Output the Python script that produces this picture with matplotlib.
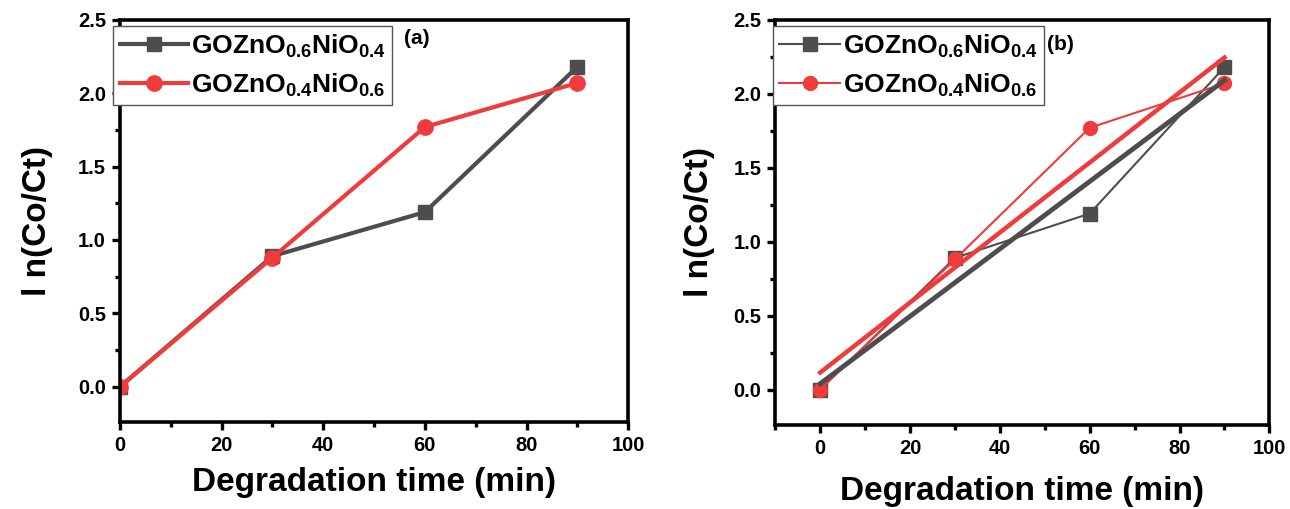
import numpy as np
import matplotlib
matplotlib.use("Agg")
import matplotlib.pyplot as plt
from matplotlib.ticker import MultipleLocator, FormatStrFormatter

plt.rcParams['font.family'] = ['Liberation Sans', 'DejaVu Sans']
plt.rcParams['font.weight'] = 'bold'
plt.rcParams['mathtext.fontset'] = 'custom'
plt.rcParams['mathtext.bf'] = 'Liberation Sans:bold'
plt.rcParams['mathtext.rm'] = 'Liberation Sans:bold'
plt.rcParams['mathtext.default'] = 'bf'

# data
time_min = [0, 30, 60, 90]
ln_zn06 = [0.0, 0.89, 1.19, 2.18]
ln_zn04 = [0.0, 0.88, 1.77, 2.07]

label_zn06 = r'GOZnO$_{0.6}$NiO$_{0.4}$'
label_zn04 = r'GOZnO$_{0.4}$NiO$_{0.6}$'

gray = '#4d4d4d'
red = '#ef3b3b'


def style_axes(ax, xmin, xpad, ypad):
    for s in ax.spines.values():
        s.set_linewidth(2.6)
    ax.set_xlim(xmin, 100)
    ax.set_ylim(-0.24, 2.5)
    ax.xaxis.set_major_locator(MultipleLocator(20))
    ax.xaxis.set_minor_locator(MultipleLocator(10))
    ax.yaxis.set_major_locator(MultipleLocator(0.5))
    ax.yaxis.set_minor_locator(MultipleLocator(0.25))
    ax.yaxis.set_major_formatter(FormatStrFormatter('%.1f'))
    ax.tick_params(which='major', direction='out', length=6, width=2.4,
                   labelsize=14.5, pad=4)
    ax.tick_params(which='minor', direction='out', length=3.5, width=2.4)
    ax.set_xlabel('Degradation time (min)', fontsize=24, fontweight='bold', labelpad=xpad)
    ax.set_ylabel('l n(Co/Ct)', fontsize=24, fontweight='bold', labelpad=ypad)


fig = plt.figure(figsize=(12.9, 5.09), dpi=100)

# panel (a)
ax1 = fig.add_axes([0.093, 0.171, 0.394, 0.790])
ax1.plot(time_min, ln_zn06, color=gray, lw=3, marker='s', ms=10, label=label_zn06)
ax1.plot(time_min, ln_zn04, color=red, lw=3, marker='o', ms=11, label=label_zn04)
style_axes(ax1, 0, 9, 18)
leg1 = ax1.legend(loc='upper left', bbox_to_anchor=(0.0876, 0.949),
                  bbox_transform=fig.transFigure, fontsize=19, handlelength=2.6,
                  borderaxespad=0, borderpad=0.25, labelspacing=0.45,
                  handletextpad=0.1, fancybox=False, framealpha=1)
leg1.get_frame().set_edgecolor('#555555')
leg1.get_frame().set_linewidth(1)
fig.text(0.323, 0.925, '(a)', fontsize=15, fontweight='bold', ha='center', va='center')

# panel (b)
ax2 = fig.add_axes([0.601, 0.165, 0.383, 0.796])
ax2.plot(time_min, ln_zn06, color=gray, lw=1.5, marker='s', ms=9.5, label=label_zn06)
ax2.plot(time_min, ln_zn04, color=red, lw=1.5, marker='o', ms=10, label=label_zn04)
fit06 = np.polyfit(time_min, ln_zn06, 1)
fit04 = np.polyfit(time_min, ln_zn04, 1)
ax2.plot(time_min, np.polyval(fit06, time_min), color=gray, lw=3.5)
ax2.plot(time_min, np.polyval(fit04, time_min), color=red, lw=3.2)
style_axes(ax2, -10, 13, 13)
leg2 = ax2.legend(loc='upper left', bbox_to_anchor=(0.599, 0.949),
                  bbox_transform=fig.transFigure, fontsize=19, handlelength=2.3,
                  borderaxespad=0, borderpad=0.25, labelspacing=0.45,
                  handletextpad=0.1, fancybox=False, framealpha=1)
leg2.get_frame().set_edgecolor('#555555')
leg2.get_frame().set_linewidth(1)
fig.text(0.822, 0.912, '(b)', fontsize=15, fontweight='bold', ha='center', va='center')

fig.savefig('out.png', dpi=100)
